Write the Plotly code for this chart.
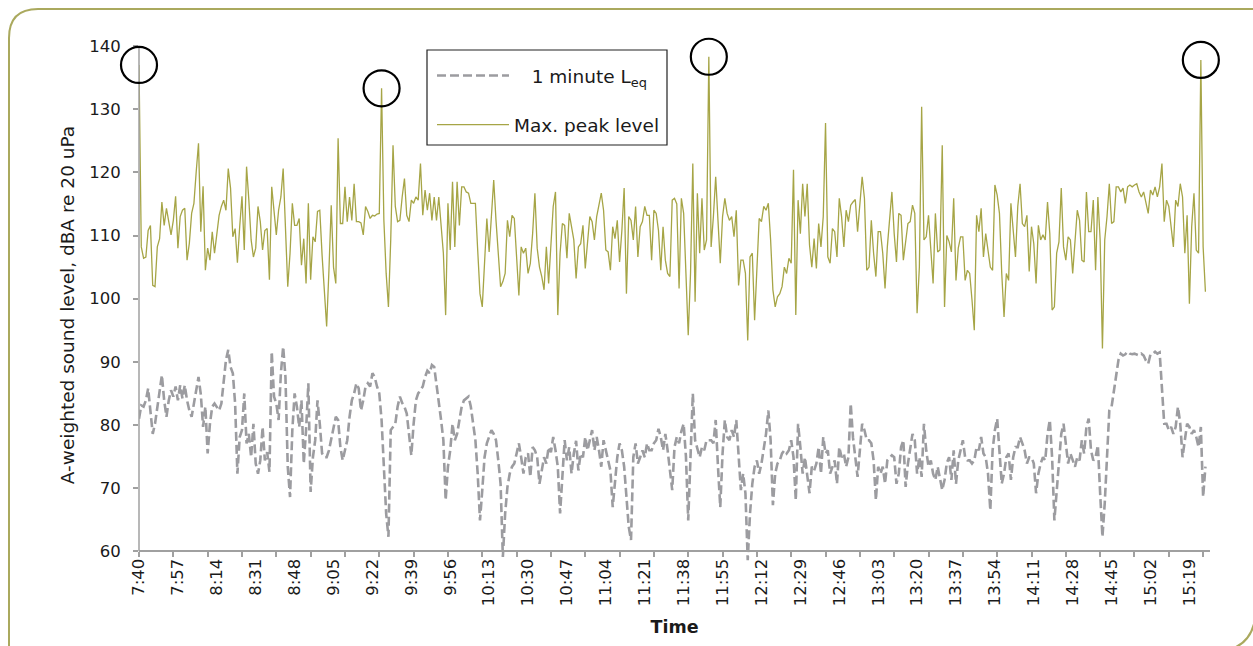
import plotly.graph_objects as go

# ---------------- data ----------------
tick_labels = ["7:40", "7:57", "8:14", "8:31", "8:48", "9:05", "9:22", "9:39", "9:56",
               "10:13", "10:30", "10:47", "11:04", "11:21", "11:38", "11:55", "12:12",
               "12:29", "12:46", "13:03", "13:20", "13:37", "13:54", "14:11", "14:28",
               "14:45", "15:02", "15:19"]

# Max. peak level, one value per minute from 7:40
max_peak = [
    137, 108.2, 106.4, 106.6, 110.8, 111.6, 102.1, 101.9, 108.2, 109.5,
    115.3, 111.6, 114.3, 112.2, 110.1, 112.4, 116.2, 108, 113, 114,
    114.3, 106.1, 108.8, 113.5, 115.1, 120.1, 124.6, 110.6, 117.8, 104.5,
    108, 106.1, 110.6, 107.2, 110.3, 113.2, 114.6, 115.6, 114, 120.6,
    117.5, 109.8, 111.1, 105.7, 111.4, 116.2, 107.7, 120.9, 115.6, 109.3,
    106.6, 108, 114.6, 112.2, 107.7, 110.8, 111.1, 103, 117.7, 114,
    110.1, 114, 116.1, 120.6, 111.4, 101.9, 107.2, 115.1, 111.6, 111.6,
    112.7, 105.3, 109.5, 102.4, 115.1, 103, 109.8, 109, 113.8, 114,
    106.9, 101.9, 95.6, 104.5, 114.8, 105, 102.4, 125.4, 111.9, 111.9,
    117.7, 112.2, 116.1, 112.4, 118.2, 112.2, 112.2, 112, 110.1, 114.6,
    113.8, 112.7, 113.2, 113.1, 113.4, 113.5, 133.3, 112.4, 104, 98.7,
    109.3, 124.3, 114.6, 112.2, 112.4, 116.1, 119, 113.2, 112.2, 115.6,
    115.1, 116.1, 115.6, 121.4, 113.2, 117.2, 114, 116.7, 112.4, 116.1,
    112.4, 116.1, 112.2, 107.2, 97.4, 115.1, 107.7, 118.5, 108.2, 118.5,
    111.6, 117.7, 117.7, 116.9, 116.7, 115.1, 115.1, 115.1, 107.7, 100.8,
    98.7, 105.8, 112.7, 107.4, 113.5, 118.8, 112.4, 106.6, 101.9, 102.7,
    104, 112.4, 109.8, 113.2, 112.7, 106.6, 100.5, 108.2, 107.2, 108,
    104, 105.6, 110.3, 116.7, 108, 105,
    103.5, 101.4, 108.2, 102.4, 109.3, 114.6, 116.9, 97.4, 107.2, 111.9,
    111.6, 106.4, 113.5, 111.4, 109.3, 103.2, 108.2, 108.7, 111.6, 104.8,
    109.3, 113, 112.2, 109.3, 113, 114.6, 116.7, 114, 107.7, 107.4,
    104.5, 111.4, 109.5, 112.4, 105.8, 110.8, 117.5, 100.8, 113, 112.4,
    109.3, 114.6, 106.6, 111.4, 112.2, 114.6, 113.2, 113.2, 106.1, 114,
    113.5, 110.8, 104.5, 111.4, 106.1, 104, 103.5, 115.6,
    115.9, 115, 101.6, 115.9, 113.5, 104, 94.2, 104, 121.4, 99.5,
    116.7, 107.2, 115.9, 107.7, 109.3, 138.3,
    108.2, 113, 119.3, 112.4, 105.6, 113, 115.9, 113.5, 112.4, 113,
    109.8, 114, 102.1, 106.1, 106.1, 104, 93.4, 106.6, 107.2, 96.6,
    105, 112.7, 112.2, 114.6, 114, 115.1, 109.3, 101.4, 98.7, 100.3,
    100.8, 101.9, 105, 104, 106.4, 105.6, 120.4, 97.4, 115.6, 110.3,
    118.2, 113,
    118.2, 108.5, 105, 109.5, 104.8, 111.9, 108.2, 113, 127.8, 106.6,
    105.6, 111.1, 110.6, 106.6, 115.9, 113, 108.2, 114, 112.2, 114.8,
    115.3, 115.7, 110.6, 115.1, 119.3, 115.9, 104.5, 105, 112.4, 107.2,
    103.5, 110.6, 110.6, 107.2, 101.6, 108.2, 113, 116.9, 110.3, 105.8,
    113.5, 113.2, 106.1, 109.3, 111.9, 112.2, 114.8, 113.5, 97.7, 105,
    130.4, 109.3, 109.8, 113.2, 108.2, 102.4, 113.5, 107.4, 107.7, 124.3,
    98.7,
    110, 109, 107.4, 115.9, 102.9, 108, 109.8, 109.8, 102.9, 104.5,
    104, 99.8, 95, 113.2, 110.6, 114.3, 106.6, 110.3, 107.2, 105,
    104.5, 118, 116.4, 113.5, 104, 97.1, 104, 102.9, 115.1, 111.4,
    106.6, 114.6, 118.2, 111.9, 111.4, 113.2, 104.3, 111.4, 108.7, 102.4,
    111.6, 109.3, 110.1, 109.3, 115.3, 110.3, 98.2, 98.7, 107.2, 109,
    117.5, 108.2, 106.1, 109.8, 109.3, 104, 108.7,
    114, 112.4, 106.1, 105.8, 116.9, 110.6, 110.6, 115.6, 104.5, 116.1,
    109.3, 92.1, 109.3, 113, 118.2, 111.9, 112.2, 117.7, 117.7, 116.9,
    117.5, 115.1, 117.7, 118, 117.7, 118, 118.2, 116.9, 116.1, 116.9,
    115.1, 113.5, 117.2, 116.4, 117.7, 116.1, 117.7, 121.4, 112.2, 115.6,
    114.6, 111.4, 108.2, 115.6, 114.6, 118.2, 116.1, 107.2, 113.2, 99.2,
    111.4, 116.7, 107.7, 107.2, 137.8, 108.2, 101.1,
]

# 1 minute Leq, one value per minute from 7:40
leq_1min = [
    81, 83.1, 82.9, 83.9, 85.8, 81.8, 78.6, 80.2, 82.9, 85,
    87.9, 83.9, 81.3, 83.9, 85.5, 84.5, 86.1, 83.9, 86.3, 84.2,
    86.3, 83.9, 82.3, 81.3, 83.6, 85.5, 87.6, 84.9, 79.7, 82.9,
    75.5, 80.2, 82.9, 83.4, 82.9, 82.3, 83.4, 86.6, 90.3, 91.9,
    89.2, 88.2, 83.4, 72.3, 78.1, 79.2, 85, 77.1, 78.6, 74.9,
    80.2, 73.9, 72.3, 74.4, 79.7,
    74.4, 75.7, 72.6, 91.6, 84.5, 83.4, 80.8, 88.2, 92.4, 87.6,
    73.4, 68.6, 79.2, 85, 82.9, 79.7, 83.9, 73.9, 79.2, 86.6,
    69.4, 74.9, 77.6, 83.9, 80.2, 75.5, 74.9, 74.9, 76, 77.6,
    79.2, 81.3, 80.8, 76.5, 74.4, 76, 77.6, 81.3, 83.9, 85,
    86.6, 85.8, 82.3, 83.9, 86.1, 86.6, 86.1, 88.2, 87.6, 86.1,
    85, 80.8, 72, 66, 62.3, 79.2, 79.7, 80.2, 82.9,
    84.5, 83.5, 82.9, 81.8, 78.6, 75.2, 80.2, 83.9, 85, 85.5,
    86.1, 87.6, 88.6, 88.2, 89.5, 89.2, 86.6, 83.4, 80.8, 77.6,
    68.1, 73.4, 76, 80.2, 77.6, 78.6, 80.8, 82.9, 83.9, 84.2,
    84.5, 82.9, 80.2, 77.6, 72.3, 64.9, 69.7, 74.9, 77.1, 78.1,
    79.2, 78.6, 77.6, 74.4, 70.7, 59.1, 66, 70.2, 72.3, 73.4,
    73.9, 75.5, 77.1, 74.9, 72.3, 74.9, 75.5, 71.8, 76.5, 76,
    74.9, 70.7,
    72.8, 74.9, 73.9, 76.5, 75.7, 78.1, 76, 73.4, 66, 72.3,
    77.6, 74.4, 76.5, 72.3, 75.5, 77.5, 72.8, 75.5, 74.9, 78.1,
    76, 77.6, 79.2, 76, 78.1, 76, 73.4, 77.6, 76, 74.9,
    72.8, 67, 70.7, 74.9, 77.1, 76, 73.4, 69.2, 63.9, 61.8,
    74.9, 77.1, 73.9, 74.9, 76, 74.9, 77.1, 76, 76, 77.1,
    77.6, 79.4, 78.1, 76, 78.6, 76, 72.3, 69.7,
    76.5, 78.1, 77.1, 79, 80.2, 75, 64.9, 76, 85, 77.6,
    76, 74.9, 76.5, 76, 77.6, 77.6, 77.6, 77.1, 80.8, 73.4,
    67, 75.5, 80.8, 78.1, 77.6, 79.2, 78.1, 80.8, 75.5, 69.7,
    72.3, 69.2, 58.6, 66, 70.7, 73.4, 74.4, 72.3, 73.9, 76,
    78.6, 82.3, 77.6, 67.3, 72.3, 73.9, 74.4, 75.5, 76, 75.5,
    76, 77.6, 74.9, 68.1, 80.2, 76.5, 72.3, 74.9,
    72.3, 69.2, 73.4, 72.8, 73.9, 76.5, 72.3, 78.1, 75.5, 76,
    72.3, 73.4, 74.4, 70.7, 76.5, 74.9, 75.5, 73.4, 74.9, 83.4,
    78, 74.9, 71.8, 76, 80.2, 79.2, 77.6, 77.6, 77.1, 74.4,
    68.1, 73.4, 72.3, 73.4, 70.7, 74.4, 74.9, 75.2, 74.9, 70.7,
    72.3, 76.5, 77.6, 70.2, 73.9, 76, 78.6, 77.6, 72.3, 74.9,
    71.8, 80.2, 76, 73.4, 74.4, 72.3, 71.3, 73.4, 71.8, 69.7, 71.3,
    74, 74.9, 71.3, 76, 70.7, 74.4, 76, 77.6, 74.9, 74.4,
    74.4, 73.9, 74.4, 76.5, 76, 78.1, 75.5, 74.9, 72.3, 66.5,
    76, 79.2, 81, 74.9, 70.7, 72.3, 74.9, 75.5, 71.3, 74.9,
    76.5, 76.5, 78.1, 77.1, 76, 73.9, 74.9, 74.9, 73.9, 69.2,
    72.3, 73.9, 74.9, 74.4, 78.6, 80.8, 74.9, 64.9, 69.2, 74.9,
    78.6, 80.2, 76.5, 73.9, 75.5, 74.4, 73.4, 74.9,
    74.4, 77.6, 75.5, 79.7, 81, 76, 74.4, 74.9, 76.8, 69.2,
    62.3, 67.6, 74.9, 82.3, 82.9, 85.5, 88.2, 90.3, 91.3, 91,
    91.2, 91.6, 91.3, 91.2, 91.3, 91.2, 91, 91.3, 91, 90.2,
    89.7, 91.2, 91.3, 91.6, 91.3, 91.5, 86.1, 80.2, 80.2, 79.2,
    79.7, 78.6, 79.7, 82.9, 80.2, 74.9, 77.6, 80.2, 79.7, 78.6,
    79.2, 78.1, 76.5, 79.7, 68.6, 73.4,
]

minutes = list(range(len(max_peak)))

# ---------------- layout geometry ----------------
W, H = 1253, 646
L, R, T, B = 139, 43, 46, 82
PW, PH = W - L - R, H - T - B
X_MAX = 468
Y_MIN, Y_MAX = 58, 140
FONT = "DejaVu Sans"
GREY = "#9c9ca0"
OLIVE = "#a6a546"
AXIS = "#a0a0a0"
TXT = "#1a1a1a"
FRAME = "#aaa95e"


def px(x):
    return (x - L) / PW


def py(y):
    return (H - B - y) / PH


fig = go.Figure()
fig.add_trace(go.Scatter(
    x=minutes, y=leq_1min, mode="lines",
    name="&nbsp;&nbsp;&nbsp;1 minute L<sub>eq</sub>",
    line=dict(color=GREY, width=2.6, dash="9px,4px"), legendgroup="a",
    hoverinfo="skip"))
fig.add_trace(go.Scatter(
    x=minutes, y=max_peak, mode="lines", name="Max. peak level",
    line=dict(color=OLIVE, width=1.3), legendgroup="b", hoverinfo="skip"))

shapes = []
# legend box
shapes.append(dict(type="rect", xref="paper", yref="paper",
                   x0=px(427), x1=px(667), y0=py(145), y1=py(50),
                   line=dict(color="#222222", width=1.2), fillcolor="white", layer="below"))
# y axis line (from 60 to 140)
shapes.append(dict(type="line", xref="paper", yref="y", x0=0, x1=0, y0=60, y1=140,
                   line=dict(color=AXIS, width=1.5)))
# circles around the highest peaks
for i, v in enumerate(max_peak):
    if v > 132:
        shapes.append(dict(type="circle", xref="paper", yref="paper",
                           xsizemode="pixel", ysizemode="pixel",
                           xanchor=i / X_MAX, yanchor=(v - Y_MIN) / (Y_MAX - Y_MIN),
                           x0=-18, x1=18, y0=-18, y1=18,
                           line=dict(color="black", width=2.2)))
# rounded frame
frame = (f"M {px(9)},{py(700)} L {px(9)},{py(38)} Q {px(9)},{py(9)} {px(38)},{py(9)} "
         f"L {px(1300)},{py(9)}")
shapes.append(dict(type="path", xref="paper", yref="paper", path=frame,
                   line=dict(color=FRAME, width=2)))
corner = (f"M {px(1256)},{py(520)} L {px(1256)},{py(607)} "
          f"Q {px(1256)},{py(652)} {px(1211)},{py(652)} L {px(1100)},{py(652)}")
shapes.append(dict(type="path", xref="paper", yref="paper", path=corner,
                   line=dict(color=FRAME, width=2)))

fig.update_layout(
    width=W, height=H,
    margin=dict(l=L, r=R, t=T, b=B, autoexpand=False),
    paper_bgcolor="white", plot_bgcolor="white",
    font=dict(family=FONT, color=TXT, size=16),
    showlegend=True,
    legend=dict(x=px(432), y=py(57), xanchor="left", yanchor="top",
                bgcolor="rgba(0,0,0,0)", borderwidth=0,
                font=dict(family=FONT, size=18.5, color=TXT),
                traceorder="grouped", tracegroupgap=22, itemwidth=72),
    shapes=shapes,
    xaxis=dict(
        range=[0, X_MAX], showgrid=False, zeroline=False,
        tickmode="array",
        tickvals=[17 * k for k in range(len(tick_labels))],
        ticktext=tick_labels, ticks="", ticklen=0, tickangle=-90,
        tickfont=dict(family=FONT, size=16.5, color=TXT),
        showline=True, linecolor=AXIS, linewidth=1.5,
        anchor="free", position=(60 - Y_MIN) / (Y_MAX - Y_MIN),
        minor=dict(tickmode="array", tickvals=list(range(0, X_MAX + 1, 15)),
                   ticks="outside", ticklen=5, tickwidth=1.5, tickcolor=AXIS,
                   showgrid=False),
        title=dict(text="<b>Time</b>", standoff=14,
                   font=dict(family=FONT, size=17.5, color=TXT)),
        automargin=False,
    ),
    yaxis=dict(
        range=[Y_MIN, Y_MAX], showgrid=False, zeroline=False, showline=False,
        tickmode="array", tickvals=list(range(60, 141, 10)),
        ticks="outside", ticklen=5, tickwidth=1.5, tickcolor=AXIS,
        ticklabelstandoff=9,
        tickfont=dict(family=FONT, size=16.5, color=TXT),
        title=dict(text="A-weighted sound level, dBA re 20 uPa", standoff=9,
                   font=dict(family=FONT, size=18.5, color=TXT)),
        automargin=False,
    ),
)

fig.write_html("out.html", config={"displayModeBar": False},
               post_script="document.body.style.margin='0';document.body.style.padding='0';")
